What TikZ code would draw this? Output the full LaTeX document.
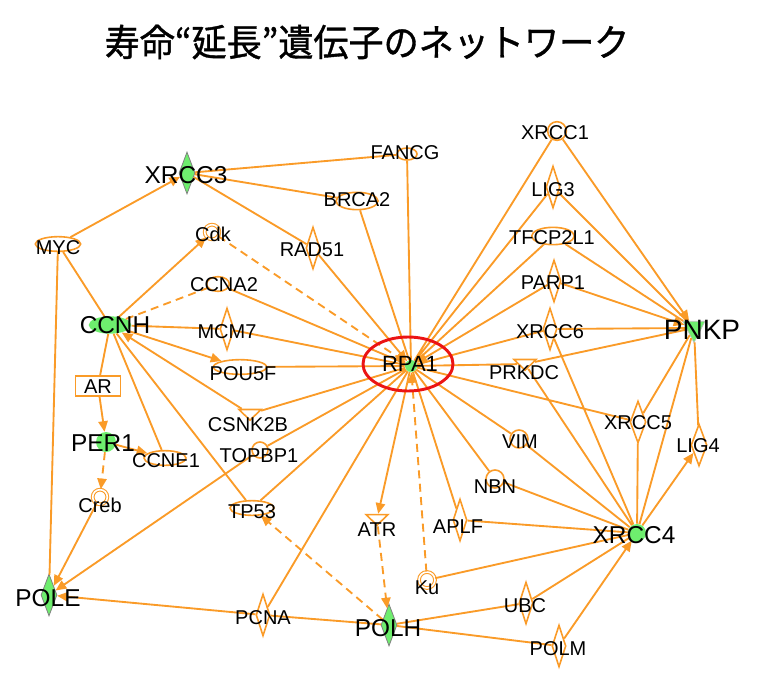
\documentclass[tikz,border=0pt]{standalone}
\usepackage{fontspec}
\setmainfont{Liberation Sans}
\newfontfamily\jpfont[FakeBold=1]{Noto Sans CJK JP}
\usetikzlibrary{shapes.geometric,arrows.meta}
\definecolor{ipaorange}{RGB}{250,155,40}
\definecolor{ipagreen}{RGB}{110,238,110}
\definecolor{ringred}{RGB}{235,20,20}

\tikzset{
	gene/.style={draw=ipaorange, line width=1.2pt, inner sep=0pt},
	dia/.style={gene, diamond, minimum width=10.5pt, minimum height=31.5pt},
	gdia/.style={dia, fill=ipagreen, draw=gray, line width=0.6pt, minimum width=12pt},
	oval/.style={gene, ellipse, minimum width=31.5pt, minimum height=11pt},
	blob/.style={gene, circle, minimum size=13.5pt},
	dcirc/.style={gene, circle, minimum size=11pt, line width=0.8pt, double=white, double distance=1.2pt},
	tri/.style={gene, isosceles triangle, isosceles triangle stretches, shape border rotate=270, minimum width=16.5pt, minimum height=8pt},
	box/.style={gene, rectangle, minimum width=34pt, minimum height=15pt},
	gdot/.style={circle, fill=ipagreen, inner sep=0pt},
	lbl/.style={font=\fontsize{15}{15}\selectfont, inner sep=0pt},
	big/.style={font=\fontsize{18.3}{18.3}\selectfont, inner sep=0pt},
	link/.style={draw=ipaorange, line width=1.4pt},
	act/.style={link, -{Triangle[length=8pt,width=7pt]}},
	ind/.style={link, dash pattern=on 6pt off 4pt},
}

\begin{document}
\begin{tikzpicture}[x=0.75pt, y=-0.75pt]
	\useasboundingbox (0,0) rectangle (760,675);

	\node[font=\jpfont\fontsize{28}{28}\selectfont] (title) at (367,42) {\scalebox{0.94}[1]{寿命“延長”遺伝子のネットワーク}};

	\node[oval, minimum width=34pt] (myc) at (58,244) {};
	\node[gdia] (xrcc3) at (187,173) {};
	\node[oval, minimum width=15pt, minimum height=9pt] (fancg) at (407,154) {};
	\node[oval, minimum height=13pt] (brca2) at (357,201) {};
	\node[dia] (rad51) at (313,248) {};
	\node[dcirc] (cdk) at (212,232) {};
	\node[oval, minimum width=17pt] (ccna2) at (218,284) {};
	\node[dia] (mcm7) at (227,329) {};
	\node[oval, minimum width=40pt] (pou5f) at (240,367) {};
	\node[gdot, ellipse, minimum width=32pt, minimum height=13pt] (ccnh) at (110,325) {};
	\node[box] (ar) at (98,386) {};
	\node[gdot, minimum size=15pt] (per1) at (106,442) {};
	\node[oval] (ccne1) at (165,458) {};
	\node[dcirc] (creb) at (100,497) {};
	\node[gdia] (pole) at (49,595) {};
	\node[tri] (csnk2b) at (250,414) {};
	\node[blob, minimum size=12pt] (topbp1) at (260,450) {};
	\node[oval, minimum width=33pt] (tp53) at (252,508) {};
	\node[tri] (atr) at (377,519) {};
	\node[dcirc, minimum size=12pt] (ku) at (427,580) {};
	\node[dia] (pcna) at (263,615) {};
	\node[gdia] (polh) at (389,625) {};

	\node[gdot, minimum size=9pt] (rpa1) at (411,366) {};

	\node[dia] (aplf) at (460,520) {};
	\node[blob] (nbn) at (495,479) {};
	\node[blob] (vim) at (519,439) {};
	\node[gdot, minimum size=13.5pt] (xrcc4) at (637,533) {};
	\node[dia] (ubc) at (526,603) {};
	\node[dia] (polm) at (559,646) {};
	\node[dia, minimum width=12pt] (xrcc5) at (638,422) {};
	\node[dia, minimum width=12pt] (lig4) at (699,445) {};
	\node[tri] (prkdc) at (525,364) {};
	\node[dia] (xrcc6) at (550,329) {};
	\node[tri, fill=ipagreen, draw=gray!50, line width=0.5pt, minimum width=16.5pt, minimum height=16pt] (pnkp) at (694,328) {};
	\node[dia] (parp1) at (554,281) {};
	\node[oval, minimum width=32pt, minimum height=13pt] (tfcp2l1) at (553,236) {};
	\node[dia] (lig3) at (553,187) {};
	\node[blob, minimum size=14pt] (xrcc1) at (557,131) {};

	\draw[link] (myc) -- (ccnh) (myc) -- (pole) (xrcc3) -- (fancg) (xrcc3) -- (brca2) (xrcc3) -- (rad51)
		(fancg) -- (rpa1) (brca2) -- (rpa1) (ccna2) -- (rpa1) (mcm7) -- (rpa1) (pou5f) -- (rpa1)
		(ccnh) -- (mcm7) (ccnh) -- (ar) (ccnh) -- (ccne1) (tp53) -- (ccnh)
		(pcna) -- (polh) (pcna) -- (rpa1) (csnk2b) -- (rpa1) (topbp1) -- (rpa1) (tp53) -- (rpa1)
		(ku) -- (xrcc4) (rpa1) -- (aplf) (aplf) -- (xrcc4) (rpa1) -- (nbn) (nbn) -- (xrcc4)
		(rpa1) -- (vim) (vim) -- (xrcc4) (polh) -- (ubc) (ubc) -- (xrcc4) (polh) -- (polm)
		(rpa1) -- (xrcc5) (xrcc5) -- (xrcc4) (xrcc5) -- (pnkp)
		(rpa1) -- (prkdc) (prkdc) -- (pnkp) (prkdc) -- (xrcc4)
		(rpa1) -- (xrcc6) (xrcc6) -- (pnkp) (xrcc6) -- (xrcc4)
		(rpa1) -- (tfcp2l1) (tfcp2l1) -- (pnkp) (rpa1) -- (lig3) (lig3) -- (pnkp)
		(rpa1) -- (xrcc1) (pnkp) -- (lig4) (pnkp) -- (xrcc4);
	\draw[ind] (ccnh) -- (ccna2);

	\draw[act] (myc) -- (xrcc3);
	\draw[act] (rad51) -- (rpa1);
	\draw[act] (parp1) -- (rpa1);
	\draw[act] (ccnh) -- (cdk);
	\draw[act] (ccnh) -- (pou5f);
	\draw[act] (csnk2b) -- (ccnh);
	\draw[act] (ar) -- (per1);
	\draw[act] (per1) -- (ccne1);
	\draw[act] (creb) -- (pole);
	\draw[act] (topbp1) -- (pole);
	\draw[act] (pcna) -- (pole);
	\draw[act] (rpa1) -- (atr);
	\draw[act] (parp1) -- (pnkp);
	\draw[act] (xrcc1) -- (pnkp);
	\draw[act] (polm) -- (xrcc4);
	\draw[act] (xrcc4) -- (lig4);
	\draw[act, ind] (cdk) -- (rpa1);
	\draw[act, ind] (per1) -- (creb);
	\draw[act, ind] (atr) -- (polh);
	\draw[act, ind] (polh) -- (tp53);
	\draw[act, ind] (ku) -- (rpa1);

	\node[draw=ringred, line width=2.2pt, ellipse, minimum width=67.5pt, minimum height=40.5pt] (rpa1-ring) at (408,364) {};

	\node[lbl] (myc-t) at (58,248) {MYC};
	\node[big] (xrcc3-t) at (186,175) {XRCC3};
	\node[lbl] (fancg-t) at (405,153) {FANCG};
	\node[lbl] (brca2-t) at (357,200) {BRCA2};
	\node[lbl] (rad51-t) at (312,250) {RAD51};
	\node[lbl] (cdk-t) at (213,234) {Cdk};
	\node[lbl] (ccna2-t) at (224,285) {CCNA2};
	\node[lbl] (mcm7-t) at (227,332) {MCM7};
	\node[lbl] (pou5f-t) at (243,374) {POU5F};
	\node[big] (ccnh-t) at (115,325) {CCNH};
	\node[lbl] (ar-t) at (98,387) {AR};
	\node[big] (per1-t) at (103,443) {PER1};
	\node[lbl] (ccne1-t) at (166,461) {CCNE1};
	\node[lbl] (creb-t) at (100,505) {Creb};
	\node[big] (pole-t) at (48,598) {POLE};
	\node[lbl] (csnk2b-t) at (248,425) {CSNK2B};
	\node[lbl] (topbp1-t) at (259,456) {TOPBP1};
	\node[lbl] (tp53-t) at (252,512) {TP53};
	\node[lbl] (atr-t) at (377,530) {ATR};
	\node[lbl] (ku-t) at (427,588) {Ku};
	\node[lbl] (pcna-t) at (263,618) {PCNA};
	\node[big] (polh-t) at (388,628) {POLH};
	\node[font=\fontsize{16.5}{16.5}\selectfont, inner sep=0pt] (rpa1-t) at (410,364) {RPA1};
	\node[lbl] (aplf-t) at (458,527) {APLF};
	\node[lbl] (nbn-t) at (495,487) {NBN};
	\node[lbl] (vim-t) at (520,442) {VIM};
	\node[big] (xrcc4-t) at (634,535) {XRCC4};
	\node[lbl] (ubc-t) at (525,606) {UBC};
	\node[lbl] (polm-t) at (558,649) {POLM};
	\node[lbl] (xrcc5-t) at (638,423) {XRCC5};
	\node[lbl] (lig4-t) at (698,446) {LIG4};
	\node[lbl] (prkdc-t) at (524,373) {PRKDC};
	\node[lbl] (xrcc6-t) at (550,332) {XRCC6};
	\node[font=\fontsize{21}{21}\selectfont, inner sep=0pt] (pnkp-t) at (702,330) {PNKP};
	\node[lbl] (parp1-t) at (553,283) {PARP1};
	\node[lbl] (tfcp2l1-t) at (552,238) {TFCP2L1};
	\node[lbl] (lig3-t) at (553,190) {LIG3};
	\node[lbl] (xrcc1-t) at (555,133) {XRCC1};
\end{tikzpicture}
\end{document}
